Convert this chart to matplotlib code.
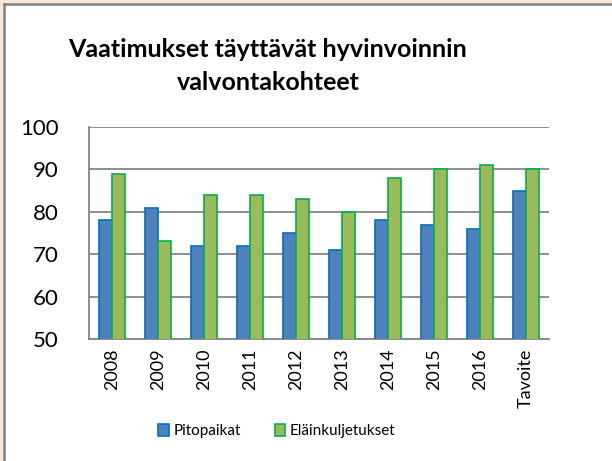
import numpy as np
import matplotlib.pyplot as plt
from matplotlib.lines import Line2D

categories = ['2008', '2009', '2010', '2011', '2012', '2013', '2014', '2015', '2016', 'Tavoite']
pitopaikat = [78, 81, 72, 72, 75, 71, 78, 77, 76, 85]
elainkuljetukset = [89, 73, 84, 84, 83, 80, 88, 90, 91, 90]

plt.rcParams['font.family'] = ['Lato', 'DejaVu Sans']

W, H = 612, 461
fig = plt.figure(figsize=(W / 100, H / 100), dpi=100)
fig.patch.set_facecolor('white')

# peach strip + grey border at top and left (rest of the frame is cropped)
fig.patches.append(plt.Rectangle((0, 0), 3 / W, 1, transform=fig.transFigure,
                                 facecolor='#fce4d6', lw=0, zorder=-5))
fig.patches.append(plt.Rectangle((0, 1 - 3 / H), 1, 3 / H, transform=fig.transFigure,
                                 facecolor='#fce4d6', lw=0, zorder=-5))
fig.lines.append(Line2D([4 / W, 4 / W], [0, 1 - 4 / H], transform=fig.transFigure,
                        color='#7f7f7f', lw=1.8))
fig.lines.append(Line2D([4 / W, 1], [1 - 4 / H, 1 - 4 / H], transform=fig.transFigure,
                        color='#7f7f7f', lw=1.8))

ax = fig.add_axes([89 / W, 1 - 339 / H, (549 - 89) / W, (339 - 127) / H])
x = np.arange(len(categories))
bw = 0.29
ax.bar(x - bw / 2, pitopaikat, bw, color='#4f81bd', edgecolor='#0070c0',
       linewidth=1.2, label='Pitopaikat', zorder=3)
ax.bar(x + bw / 2, elainkuljetukset, bw, color='#9bbb59', edgecolor='#00b050',
       linewidth=1.2, label='Eläinkuljetukset', zorder=3)

ax.set_ylim(50, 100)
ax.set_xlim(-0.5, len(categories) - 0.5)
ax.set_yticks(range(50, 101, 10))
ax.yaxis.grid(True, color='#868686', lw=1.3, zorder=0)
ax.set_xticks(x)
ax.set_xticklabels(categories, rotation=90)
ax.tick_params(axis='both', length=0)
ax.tick_params(axis='y', labelsize=16, pad=22)
ax.tick_params(axis='x', labelsize=13, pad=7)
for s in ['top', 'right']:
    ax.spines[s].set_visible(False)
for s in ['left', 'bottom']:
    ax.spines[s].set_color('#868686')
    ax.spines[s].set_linewidth(1.3)

fig.text(268 / W, 1 - 66 / H, 'Vaatimukset täyttävät hyvinvoinnin\nvalvontakohteet',
         ha='center', va='center', fontsize=18, fontweight='bold', linespacing=1.55)

leg = fig.legend(loc='center', bbox_to_anchor=(277 / W, 1 - 431 / H), ncol=2, frameon=False,
                 fontsize=11, handlelength=0.7, handleheight=0.9, handletextpad=0.3,
                 columnspacing=2.2)

fig.savefig('out.png', dpi=100)
